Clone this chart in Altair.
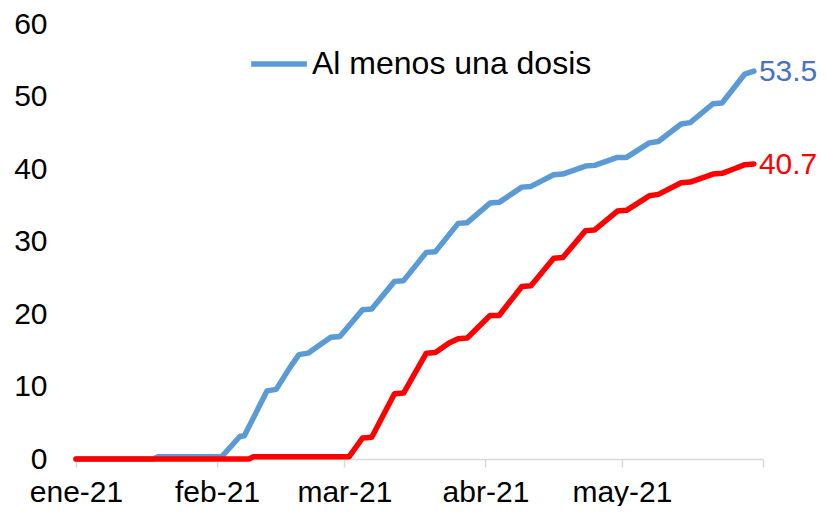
import json
import altair as alt
import pandas as pd

# ---- data ----
blue_dates = ["2021-01-01", "2021-01-18", "2021-01-19", "2021-02-02", "2021-02-06", "2021-02-07",
              "2021-02-12", "2021-02-14", "2021-02-17", "2021-02-19", "2021-02-21", "2021-02-26",
              "2021-02-28", "2021-03-05", "2021-03-07", "2021-03-12", "2021-03-14", "2021-03-19",
              "2021-03-21", "2021-03-26", "2021-03-28", "2021-04-02", "2021-04-04", "2021-04-09",
              "2021-04-11", "2021-04-16", "2021-04-18", "2021-04-23", "2021-04-25", "2021-04-30",
              "2021-05-02", "2021-05-07", "2021-05-09", "2021-05-14", "2021-05-16", "2021-05-21",
              "2021-05-23", "2021-05-28", "2021-05-30"]
blue_vals = [0.0, 0.0, 0.3, 0.3, 3.1, 3.2,
             9.4, 9.6, 12.6, 14.4, 14.6, 16.8,
             16.9, 20.6, 20.7, 24.5, 24.6, 28.5,
             28.6, 32.5, 32.6, 35.3, 35.4, 37.5,
             37.6, 39.2, 39.3, 40.4, 40.5, 41.6,
             41.6, 43.6, 43.8, 46.2, 46.4, 49.0,
             49.1, 53.1, 53.5]

red_dates = ["2021-01-01", "2021-02-08", "2021-02-09", "2021-03-02", "2021-03-05", "2021-03-07",
             "2021-03-12", "2021-03-14", "2021-03-19", "2021-03-21", "2021-03-24", "2021-03-26",
             "2021-03-28", "2021-04-02", "2021-04-04", "2021-04-09", "2021-04-11", "2021-04-16",
             "2021-04-18", "2021-04-23", "2021-04-25", "2021-04-30", "2021-05-02", "2021-05-07",
             "2021-05-09", "2021-05-14", "2021-05-16", "2021-05-21", "2021-05-23", "2021-05-26",
             "2021-05-28", "2021-05-30"]
red_vals = [0.0, 0.0, 0.3, 0.3, 2.9, 3.0,
            9.0, 9.1, 14.6, 14.7, 16.0, 16.6,
            16.7, 19.8, 19.8, 23.8, 23.9, 27.7,
            27.8, 31.5, 31.6, 34.2, 34.3, 36.3,
            36.5, 38.1, 38.2, 39.3, 39.4, 40.1,
            40.6, 40.7]

blue_name = "Al menos una dosis"
blue_label = "53.5"
red_label = "40.7"

x_tick_months = [1, 2, 3, 4, 5, 6]
x_tick_labels = ["ene-21", "feb-21", "mar-21", "abr-21", "may-21", ""]
y_ticks = [0, 10, 20, 30, 40, 50, 60]

FONT = "Liberation Sans"
BLUE = "#5B9BD5"
BLUE_TXT = "#4472C4"
RED = "#FF0000"

blue_df = pd.DataFrame({"fecha": [d + "T00:00:00" for d in blue_dates], "valor": blue_vals,
                        "serie": blue_name})
red_df = pd.DataFrame({"fecha": [d + "T00:00:00" for d in red_dates], "valor": red_vals})
blue_end = pd.DataFrame({"fecha": [blue_dates[-1] + "T00:00:00"], "valor": [blue_vals[-1]],
                         "txt": [blue_label]})
red_end = pd.DataFrame({"fecha": [red_dates[-1] + "T00:00:00"], "valor": [red_vals[-1]],
                        "txt": [red_label]})

label_expr = json.dumps(x_tick_labels) + "[month(datum.value)]"

x_enc = alt.X(
    "fecha:T",
    title=None,
    scale=alt.Scale(domain=[alt.DateTime(year=2021, month=1, date=1),
                            alt.DateTime(year=2021, month=6, date=1)]),
    axis=alt.Axis(values=[alt.DateTime(year=2021, month=m, date=1) for m in x_tick_months],
                  labelExpr=label_expr, grid=False, domainColor="#D9D9D9",
                  domainWidth=1.5, tickColor="#D9D9D9", tickWidth=1.5, tickSize=8,
                  labelFontSize=30, labelFont=FONT, labelColor="#000000",
                  labelPadding=10, labelFlush=False, labelOverlap=False),
)
y_enc = alt.Y(
    "valor:Q",
    title=None,
    scale=alt.Scale(domain=[0, 60], nice=False),
    axis=alt.Axis(values=y_ticks, grid=False, domain=False, ticks=False,
                  labelFontSize=30, labelFont=FONT, labelColor="#000000",
                  labelPadding=29),
)

blue_line = alt.Chart(blue_df).mark_line(
    strokeWidth=5.5, strokeCap="round", strokeJoin="round"
).encode(
    x=x_enc, y=y_enc,
    color=alt.Color("serie:N",
                    scale=alt.Scale(domain=[blue_name], range=[BLUE]),
                    legend=alt.Legend(title=None, orient="none", legendX=172, legendY=9,
                                      symbolType="stroke", symbolSize=3100,
                                      symbolStrokeWidth=5.5, labelFontSize=32,
                                      labelFont=FONT, labelColor="#000000",
                                      labelOffset=2, labelLimit=0, padding=0)),
)

red_line = alt.Chart(red_df).mark_line(
    color=RED, strokeWidth=5.5, strokeCap="round", strokeJoin="round"
).encode(x=x_enc, y=y_enc)

blue_txt = alt.Chart(blue_end).mark_text(
    align="left", baseline="middle", dx=5, dy=1, fontSize=30, font=FONT, color=BLUE_TXT
).encode(x="fecha:T", y="valor:Q", text="txt:N")

red_txt = alt.Chart(red_end).mark_text(
    align="left", baseline="middle", dx=5, dy=1, fontSize=30, font=FONT, color=RED
).encode(x="fecha:T", y="valor:Q", text="txt:N")

chart = alt.layer(blue_line, red_line, blue_txt, red_txt).properties(
    width=687, height=435,
    autosize=alt.AutoSizeParams(type="none"),
    padding={"left": 68, "top": 16, "right": 54, "bottom": 47},
).configure(font=FONT).configure_view(stroke=None)

chart.save("out.html", embed_options={"renderer": "svg", "actions": False})
